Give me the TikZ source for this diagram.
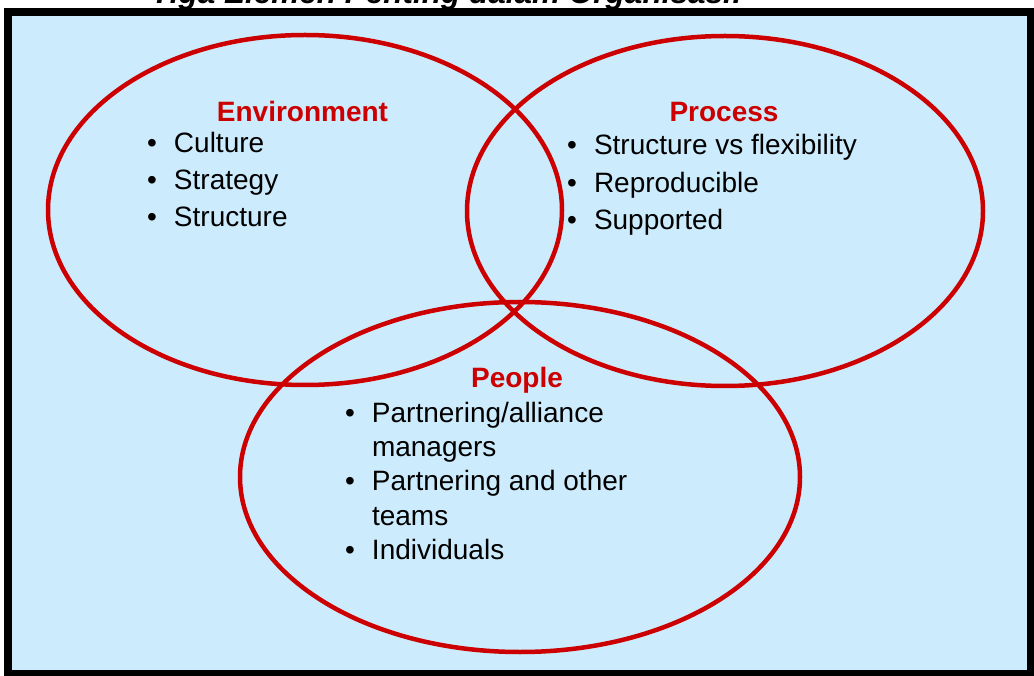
\documentclass[tikz,border=0pt]{standalone}
\usepackage{fontspec}
\setmainfont{Liberation Sans}
\usepackage{tikz}
\usetikzlibrary{positioning}
\definecolor{vennred}{RGB}{204,0,0}
\definecolor{paleblue}{RGB}{204,235,252}
\tikzstyle{ring} =[draw=vennred, line width=4.5pt]
\tikzstyle{heading} =[text=vennred, font=\fontsize{28}{34}\selectfont\bfseries, inner sep=0pt, anchor=base]
\tikzset{itemlist/.style={font=\fontsize{28}{#1}\selectfont, inner sep=0pt, anchor=base west}}
\newcommand{\itemrow}[1]{\textbullet & #1\\}
\newcommand{\gorow}[1]{ & #1\\}

\begin{document}
\begin{tikzpicture}[x=1pt,y=-1pt]
\useasboundingbox (0,0) rectangle (1034,676);
% frame
\fill[black] (4,8) rectangle (1034,676);
\fill[paleblue] (12,16) rectangle (1027,670);
\node (title) [anchor=base west, inner sep=0pt, font=\fontsize{31.5}{36}\selectfont\bfseries\itshape] at (151,3.5) {Tiga Elemen Penting dalam Organisasi:};
% the three rings
\draw [ring] (305,210) ellipse [x radius=257pt, y radius=175pt];
\draw [ring] (725,211) ellipse [x radius=258pt, y radius=175pt];
\draw [ring] (520,477) ellipse [x radius=280pt, y radius=175pt];
% headings
\node (env) [heading] at (302.5,122) {Environment};
\node (proc) [heading] at (724,122) {Process};
\node (ppl) [heading] at (517,388) {People};
% lists
\node (envlist) [itemlist=37] at (147,153) {\begin{tabular}[t]{@{}l@{\hspace{17pt}}l@{}}
\itemrow{Culture}
\itemrow{Strategy}
\itemrow{Structure}
\end{tabular}};
\node (proclist) [itemlist=37.5] at (567,155) {\begin{tabular}[t]{@{}l@{\hspace{17pt}}l@{}}
\itemrow{Structure vs flexibility}
\itemrow{Reproducible}
\itemrow{Supported}
\end{tabular}};
\node (ppllist) [itemlist=34.5] at (345,422) {\begin{tabular}[t]{@{}l@{\hspace{17pt}}l@{}}
\itemrow{Partnering/alliance}
\gorow{managers}
\itemrow{Partnering and other}
\gorow{teams}
\itemrow{Individuals}
\end{tabular}};
\end{tikzpicture}
\end{document}
